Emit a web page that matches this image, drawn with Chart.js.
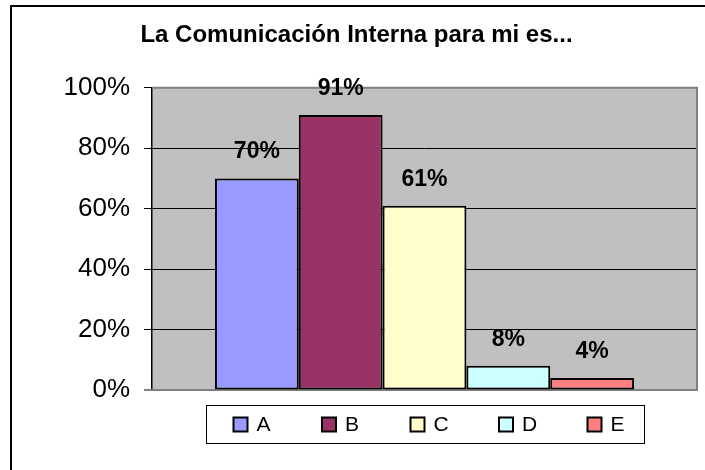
<!DOCTYPE html>
<html lang="es">
<head>
  <meta charset="UTF-8" />
  <title>La Comunicación Interna para mi es...</title>
  <script src="https://cdn.jsdelivr.net/npm/chart.js"></script>
  <style>
    html, body { margin: 0; padding: 0; background: #ffffff; }
    #chart { display: block; }
  </style>
</head>
<body>
  <canvas id="chart" width="705" height="470"></canvas>

  <script>
    // data
    const categories = [''];
    const seriesNames = ['A', 'B', 'C', 'D', 'E'];
    const seriesValues = [70, 91, 61, 8, 4];
    const seriesColors = ['#9999FF', '#993366', '#FFFFCC', '#CCFFFF', '#FF8080'];
    const yTicks = [0, 20, 40, 60, 80, 100];

    const FONT = "'Liberation Sans', Arial, sans-serif";

    // white page + the outer frame (only top and left sides are visible)
    const framePlugin = {
      id: 'frame',
      beforeDraw(chart) {
        const ctx = chart.ctx;
        const a = chart.chartArea;
        ctx.save();
        ctx.fillStyle = '#ffffff';
        ctx.fillRect(0, 0, chart.width, chart.height);
        ctx.strokeStyle = '#000000';
        ctx.lineWidth = 2;
        ctx.beginPath();
        ctx.moveTo(chart.width + 5, 6);
        ctx.lineTo(11, 6);
        ctx.lineTo(11, chart.height + 5);
        ctx.stroke();
        // grey plot area
        ctx.fillStyle = '#C0C0C0';
        ctx.fillRect(a.left, a.top, a.right - a.left, a.bottom - a.top);
        ctx.restore();
      }
    };

    // grey plot-area border on top, right and bottom
    const plotBorder = {
      id: 'plotBorder',
      beforeDatasetsDraw(chart) {
        const ctx = chart.ctx;
        const a = chart.chartArea;
        ctx.save();
        ctx.strokeStyle = '#808080';
        ctx.lineWidth = 2;
        ctx.beginPath();
        ctx.moveTo(a.left, a.top);
        ctx.lineTo(a.right, a.top);
        ctx.lineTo(a.right, a.bottom);
        ctx.lineTo(a.left - 8, a.bottom);
        ctx.stroke();
        ctx.restore();
      }
    };

    // value labels above each bar
    const valueLabels = {
      id: 'valueLabels',
      afterDatasetsDraw(chart) {
        const ctx = chart.ctx;
        ctx.save();
        ctx.font = 'bold 23px ' + FONT;
        ctx.fillStyle = '#000000';
        ctx.textAlign = 'center';
        ctx.textBaseline = 'alphabetic';
        chart.data.datasets.forEach((ds, i) => {
          const bar = chart.getDatasetMeta(i).data[0];
          ctx.fillText(ds.data[0] + '%', bar.x, bar.y - 20);
        });
        ctx.restore();
      }
    };

    // Excel-like boxed legend under the plot
    const boxLegend = {
      id: 'boxLegend',
      afterDraw(chart) {
        const ctx = chart.ctx;
        const a = chart.chartArea;
        const w = 438, h = 38;
        const left = Math.round((a.left + a.right) / 2 - w / 2) + 0.5;
        const top = Math.round(a.bottom + 15) + 0.5;
        ctx.save();
        ctx.fillStyle = '#ffffff';
        ctx.fillRect(left, top, w, h);
        ctx.strokeStyle = '#000000';
        ctx.lineWidth = 1;
        ctx.strokeRect(left, top, w, h);
        ctx.font = '21px ' + FONT;
        ctx.textBaseline = 'middle';
        ctx.textAlign = 'left';
        const cy = top + h / 2;
        chart.data.datasets.forEach((ds, i) => {
          const bx = left + 27 + i * 88.5;
          ctx.fillStyle = ds.backgroundColor;
          ctx.fillRect(bx, cy - 7, 14, 14);
          ctx.lineWidth = 2;
          ctx.strokeStyle = '#000000';
          ctx.strokeRect(bx, cy - 7, 14, 14);
          ctx.fillStyle = '#000000';
          ctx.fillText(ds.label, bx + 23, cy + 1);
        });
        ctx.restore();
      }
    };

    const datasets = seriesNames.map((name, i) => ({
      label: name,
      data: [seriesValues[i]],
      backgroundColor: seriesColors[i],
      borderColor: '#000000',
      borderWidth: 2,
      borderSkipped: false,
      categoryPercentage: 0.769,
      barPercentage: 1.0
    }));

    new Chart(document.getElementById('chart'), {
      type: 'bar',
      data: { labels: categories, datasets },
      options: {
        responsive: false,
        animation: false,
        events: [],
        layout: { padding: { top: 0, left: 16, right: 8, bottom: 80 } },
        plugins: {
          legend: { display: false },
          tooltip: { enabled: false },
          title: {
            display: true,
            text: 'La Comunicación Interna para mi es...',
            color: '#000000',
            font: { family: FONT, size: 24, weight: 'bold' },
            padding: { top: 21, bottom: 38 }
          }
        },
        scales: {
          x: { display: false },
          y: {
            min: yTicks[0],
            max: yTicks[yTicks.length - 1],
            afterFit(scale) { scale.width = 136; },
            afterBuildTicks(scale) { scale.ticks = yTicks.map(v => ({ value: v })); },
            ticks: {
              color: '#000000',
              font: { family: FONT, size: 26 },
              padding: 14,
              callback: v => v + '%'
            },
            grid: { color: '#000000', lineWidth: 1, tickLength: 8 },
            border: { color: '#000000', width: 1.5 }
          }
        }
      },
      plugins: [framePlugin, plotBorder, valueLabels, boxLegend]
    });
  </script>
</body>
</html>
